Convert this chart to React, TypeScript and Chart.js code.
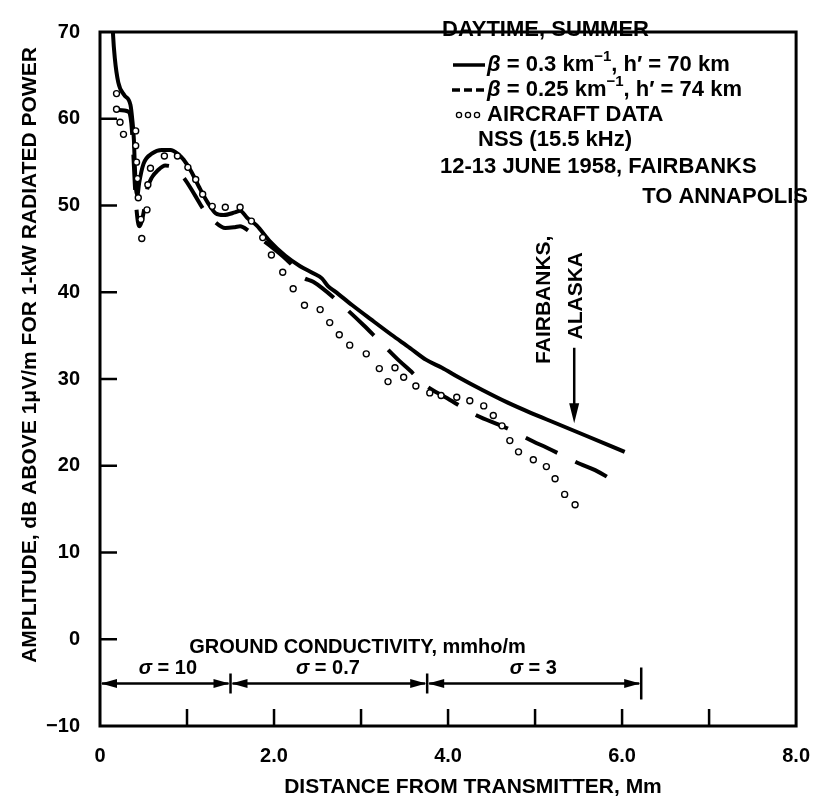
import React, { useEffect, useRef } from 'react';
import { Chart, registerables } from 'chart.js';

Chart.register(...registerables);

// ---- data (distance in Mm, amplitude in dB) ----
const solidX = [0.13, 0.15, 0.17, 0.21, 0.28, 0.35, 0.37, 0.39, 0.40, 0.415, 0.43, 0.45, 0.50, 0.60, 0.71, 0.81, 0.90, 0.96, 1.05, 1.14, 1.24, 1.33, 1.42, 1.55, 1.61, 1.69, 1.80, 1.95, 2.13, 2.30, 2.45, 2.55, 2.62, 2.70, 2.90, 3.11, 3.35, 3.56, 3.75, 3.93, 4.12, 4.40, 4.68, 4.95, 5.24, 5.60, 6.03];
const solidY = [75, 69.7, 67.0, 64.2, 62.7, 61.6, 60.0, 57.5, 54.6, 51.8, 51.2, 52.6, 54.8, 56.0, 56.4, 56.4, 55.9, 55.3, 53.9, 52.1, 50.3, 49.1, 48.9, 49.2, 49.4, 48.6, 47.7, 45.9, 44.2, 43.0, 42.2, 41.6, 40.7, 40.1, 38.5, 36.9, 35.1, 33.6, 32.2, 31.3, 30.2, 28.7, 27.3, 26.1, 24.9, 23.4, 21.6];

const dashX = [0.20, 0.33, 0.36, 0.38, 0.40, 0.42, 0.45, 0.48, 0.51, 0.54, 0.60, 0.66, 0.75, 0.86, 0.97, 1.09, 1.20, 1.31, 1.44, 1.55, 1.61, 1.72, 1.87, 2.00, 2.13, 2.21, 2.32, 2.45, 2.55, 2.75, 3.03, 3.18, 3.45, 3.56, 3.75, 3.97, 4.33, 4.64, 4.98, 5.13, 5.52, 5.69, 6.01];
const dashY = [61.0, 60.8, 59.5, 56.5, 52.5, 49.5, 47.6, 48.2, 49.7, 51.8, 53.3, 54.0, 54.6, 54.3, 53.1, 51.2, 49.4, 48.2, 47.4, 47.5, 47.6, 47.0, 46.0, 45.0, 43.9, 43.1, 41.8, 41.2, 40.5, 38.8, 36.2, 34.7, 32.0, 31.0, 29.2, 27.9, 25.8, 24.5, 22.8, 22.1, 20.2, 19.5, 17.6];

const aircraftX = [0.19, 0.19, 0.23, 0.27, 0.41, 0.41, 0.42, 0.43, 0.44, 0.47, 0.48, 0.54, 0.55, 0.58, 0.74, 0.89, 1.01, 1.10, 1.18, 1.29, 1.44, 1.61, 1.74, 1.87, 1.97, 2.10, 2.22, 2.35, 2.53, 2.64, 2.75, 2.87, 3.06, 3.21, 3.31, 3.39, 3.49, 3.63, 3.79, 3.92, 4.10, 4.25, 4.41, 4.52, 4.62, 4.71, 4.81, 4.98, 5.13, 5.23, 5.34, 5.46];
const aircraftY = [62.9, 61.1, 59.6, 58.2, 58.6, 56.9, 55.0, 53.1, 50.9, 48.4, 46.2, 49.5, 52.4, 54.3, 55.7, 55.7, 54.4, 53.0, 51.3, 49.9, 49.8, 49.8, 48.2, 46.3, 44.3, 42.3, 40.4, 38.5, 38.0, 36.5, 35.1, 33.9, 32.9, 31.2, 29.7, 31.3, 30.2, 29.2, 28.4, 28.1, 27.9, 27.5, 26.9, 25.8, 24.6, 22.9, 21.6, 20.7, 19.9, 18.5, 16.7, 15.5];

const xTickValues = [0, 1, 2, 3, 4, 5, 6, 7, 8];
const xTickLabels = ['0', '', '2.0', '', '4.0', '', '6.0', '', '8.0'];
const yTickValues = [-10, 0, 10, 20, 30, 40, 50, 60, 70];

const sigmaBounds = [0, 1.5, 3.76, 6.22];
const sigmaLabels = ['σ = 10', 'σ = 0.7', 'σ = 3'];
const sigmaLabelX = [0.78, 2.62, 4.98];
const sigmaLevel = -5.1;
const sigmaLabelLevel = -3.4;
const groundTitle = 'GROUND CONDUCTIVITY, mmho/m';
const groundTitleX = 2.96;
const groundTitleLevel = -0.9;

const fairbanksArrowX = 5.45;
const fairbanksArrowTop = 33.6;
const fairbanksArrowTip = 24.9;

const xTitle = 'DISTANCE FROM TRANSMITTER, Mm';
const yTitle = 'AMPLITUDE, dB ABOVE 1μV/m FOR 1-kW RADIATED POWER';

const FONT = '"Liberation Sans", Arial, Helvetica, sans-serif';

const pts = (xs: number[], ys: number[]) => xs.map((x, i) => ({ x, y: ys[i] }));

function drawParts(ctx: CanvasRenderingContext2D, x: number, y: number, parts: { t: string; f: string; dy?: number }[]) {
  let cx = x;
  for (const p of parts) {
    ctx.font = p.f;
    ctx.fillText(p.t, cx, y + (p.dy || 0));
    cx += ctx.measureText(p.t).width;
  }
  return cx;
}

function arrowHead(ctx: CanvasRenderingContext2D, tipX: number, tipY: number, dx: number, dy: number, len: number, half: number) {
  const bx = tipX - dx * len;
  const by = tipY - dy * len;
  ctx.beginPath();
  ctx.moveTo(tipX, tipY);
  ctx.lineTo(bx - dy * half, by + dx * half);
  ctx.lineTo(bx + dy * half, by - dx * half);
  ctx.closePath();
  ctx.fill();
}

const decorPlugin = {
  id: 'decor',
  afterDraw(chart: any) {
    const { ctx, chartArea: ca } = chart;
    const xs = chart.scales.x;
    const ys = chart.scales.y;
    ctx.save();
    ctx.strokeStyle = '#000';
    ctx.fillStyle = '#000';

    // frame
    ctx.lineWidth = 3;
    ctx.strokeRect(ca.left, ca.top, ca.right - ca.left, ca.bottom - ca.top);

    // inward tick marks
    ctx.lineWidth = 2.5;
    for (const v of yTickValues) {
      if (v === -10 || v === 70) continue;
      const py = ys.getPixelForValue(v);
      ctx.beginPath();
      ctx.moveTo(ca.left, py);
      ctx.lineTo(ca.left + 17, py);
      ctx.stroke();
    }
    for (const v of xTickValues) {
      if (v === 0 || v === 8) continue;
      const px = xs.getPixelForValue(v);
      ctx.beginPath();
      ctx.moveTo(px, ca.bottom);
      ctx.lineTo(px, ca.bottom - 17);
      ctx.stroke();
    }

    const bold = (s: number) => `bold ${s}px ${FONT}`;
    const boldItalic = (s: number) => `italic bold ${s}px ${FONT}`;

    // axis titles
    ctx.textBaseline = 'middle';
    ctx.textAlign = 'center';
    ctx.font = bold(21);
    ctx.fillText(xTitle, 473, 787);
    ctx.save();
    ctx.translate(30, 355);
    ctx.rotate(-Math.PI / 2);
    ctx.fillText(yTitle, 0, 0);
    ctx.restore();

    // legend block
    const LF = 22;
    ctx.textAlign = 'left';
    ctx.font = bold(LF);
    ctx.fillText('DAYTIME, SUMMER', 442, 30);
    // solid sample
    ctx.lineWidth = 3.5;
    ctx.setLineDash([]);
    ctx.beginPath();
    ctx.moveTo(453, 65);
    ctx.lineTo(485, 65);
    ctx.stroke();
    drawParts(ctx, 487, 65, [
      { t: 'β', f: boldItalic(LF) },
      { t: ' = 0.3 km', f: bold(LF) },
      { t: '−1', f: bold(15), dy: -8 },
      { t: ', h′ = 70 km', f: bold(LF) },
    ]);
    // dashed sample
    ctx.setLineDash([8, 4]);
    ctx.beginPath();
    ctx.moveTo(452, 90);
    ctx.lineTo(485, 90);
    ctx.stroke();
    ctx.setLineDash([]);
    drawParts(ctx, 487, 90, [
      { t: 'β', f: boldItalic(LF) },
      { t: ' = 0.25 km', f: bold(LF) },
      { t: '−1', f: bold(15), dy: -8 },
      { t: ', h′ = 74 km', f: bold(LF) },
    ]);
    // circles sample
    ctx.lineWidth = 1.3;
    for (const cx of [459, 468, 477]) {
      ctx.beginPath();
      ctx.arc(cx, 115, 2.6, 0, Math.PI * 2);
      ctx.stroke();
    }
    ctx.font = bold(LF);
    ctx.fillText('AIRCRAFT DATA', 487, 115);
    ctx.fillText('NSS (15.5 kHz)', 478, 140);
    ctx.fillText('12-13 JUNE 1958, FAIRBANKS', 440, 167);
    ctx.textAlign = 'right';
    ctx.fillText('TO ANNAPOLIS', 808, 197);

    // ground conductivity
    ctx.textAlign = 'center';
    ctx.font = bold(20);
    ctx.fillText(groundTitle, xs.getPixelForValue(groundTitleX), ys.getPixelForValue(groundTitleLevel));
    const gy = ys.getPixelForValue(sigmaLevel);
    const ly = ys.getPixelForValue(sigmaLabelLevel);
    for (let i = 0; i < sigmaLabels.length; i++) {
      const lx = xs.getPixelForValue(sigmaLabelX[i]);
      const parts = sigmaLabels[i].split('σ');
      ctx.font = boldItalic(20);
      const w1 = ctx.measureText('σ').width;
      ctx.font = bold(20);
      const w2 = ctx.measureText(parts[1]).width;
      ctx.textAlign = 'left';
      drawParts(ctx, lx - (w1 + w2) / 2, ly, [
        { t: 'σ', f: boldItalic(20) },
        { t: parts[1], f: bold(20) },
      ]);
    }
    ctx.lineWidth = 2.5;
    for (let i = 0; i < sigmaBounds.length - 1; i++) {
      const a = xs.getPixelForValue(sigmaBounds[i]);
      const b = xs.getPixelForValue(sigmaBounds[i + 1]);
      ctx.beginPath();
      ctx.moveTo(a + 2, gy);
      ctx.lineTo(b - 2, gy);
      ctx.stroke();
      arrowHead(ctx, a + 1, gy, -1, 0, 16, 4.5);
      arrowHead(ctx, b - 1, gy, 1, 0, 16, 4.5);
    }
    for (let i = 1; i < sigmaBounds.length; i++) {
      const px = xs.getPixelForValue(sigmaBounds[i]);
      const h = i === sigmaBounds.length - 1 ? 16 : 10;
      ctx.beginPath();
      ctx.moveTo(px, gy - h);
      ctx.lineTo(px, gy + h);
      ctx.stroke();
    }

    // Fairbanks, Alaska marker
    const ax = xs.getPixelForValue(fairbanksArrowX);
    const aTop = ys.getPixelForValue(fairbanksArrowTop);
    const aTip = ys.getPixelForValue(fairbanksArrowTip);
    ctx.lineWidth = 2.5;
    ctx.beginPath();
    ctx.moveTo(ax, aTop);
    ctx.lineTo(ax, aTip - 10);
    ctx.stroke();
    arrowHead(ctx, ax, aTip, 0, 1, 20, 5);
    ctx.font = bold(21);
    ctx.textAlign = 'center';
    ctx.save();
    ctx.translate(ax - 30, aTop - 48);
    ctx.rotate(-Math.PI / 2);
    ctx.fillText('FAIRBANKS,', 0, 0);
    ctx.restore();
    ctx.save();
    ctx.translate(ax + 2, aTop - 52);
    ctx.rotate(-Math.PI / 2);
    ctx.fillText('ALASKA', 0, 0);
    ctx.restore();

    ctx.restore();
  },
};

export default function App() {
  const ref = useRef<HTMLCanvasElement | null>(null);
  useEffect(() => {
    if (!ref.current) return;
    const tickFont = { family: FONT, size: 20, weight: 'bold' as const };
    const chart = new Chart(ref.current, {
      type: 'scatter',
      data: {
        datasets: [
          {
            label: 'AIRCRAFT DATA',
            data: pts(aircraftX, aircraftY),
            showLine: false,
            pointRadius: 3,
            pointBorderWidth: 1.4,
            pointBackgroundColor: '#fff',
            pointBorderColor: '#000',
          },
          {
            label: 'β = 0.3 km-1, h′ = 70 km',
            data: pts(solidX, solidY),
            showLine: true,
            borderColor: '#000',
            borderWidth: 4,
            pointRadius: 0,
            cubicInterpolationMode: 'monotone',
            fill: false,
          },
          {
            label: 'β = 0.25 km-1, h′ = 74 km',
            data: pts(dashX, dashY),
            showLine: true,
            borderColor: '#000',
            borderWidth: 4,
            borderDash: [35, 20],
            pointRadius: 0,
            cubicInterpolationMode: 'monotone',
            fill: false,
          },
        ],
      },
      options: {
        animation: false,
        responsive: false,
        layout: { padding: { top: 17, right: 16, left: 0, bottom: 0 } },
        plugins: { legend: { display: false }, tooltip: { enabled: false } },
        scales: {
          x: {
            type: 'linear',
            min: 0,
            max: 8,
            afterFit: (s: any) => { s.height = 80; },
            afterBuildTicks: (s: any) => { s.ticks = xTickValues.map((v) => ({ value: v })); },
            ticks: {
              autoSkip: false,
              maxRotation: 0,
              padding: 18,
              color: '#000',
              font: tickFont,
              callback: (_v: any, i: number) => xTickLabels[i],
            },
            grid: { display: false, drawTicks: false },
            border: { display: false },
          },
          y: {
            type: 'linear',
            min: -10,
            max: 70,
            afterFit: (s: any) => { s.width = 100; },
            afterBuildTicks: (s: any) => { s.ticks = yTickValues.map((v) => ({ value: v })); },
            ticks: {
              padding: 20,
              color: '#000',
              font: tickFont,
              callback: (v: any) => (v < 0 ? '−' + Math.abs(v) : String(v)),
            },
            grid: { display: false, drawTicks: false },
            border: { display: false },
          },
        },
      },
      plugins: [decorPlugin],
    });
    return () => chart.destroy();
  }, []);
  return (
    <div style={{ position: 'absolute', left: 0, top: 0, width: 828, height: 806, background: '#fff' }}>
      <canvas ref={ref} width={828} height={806} />
    </div>
  );
}
